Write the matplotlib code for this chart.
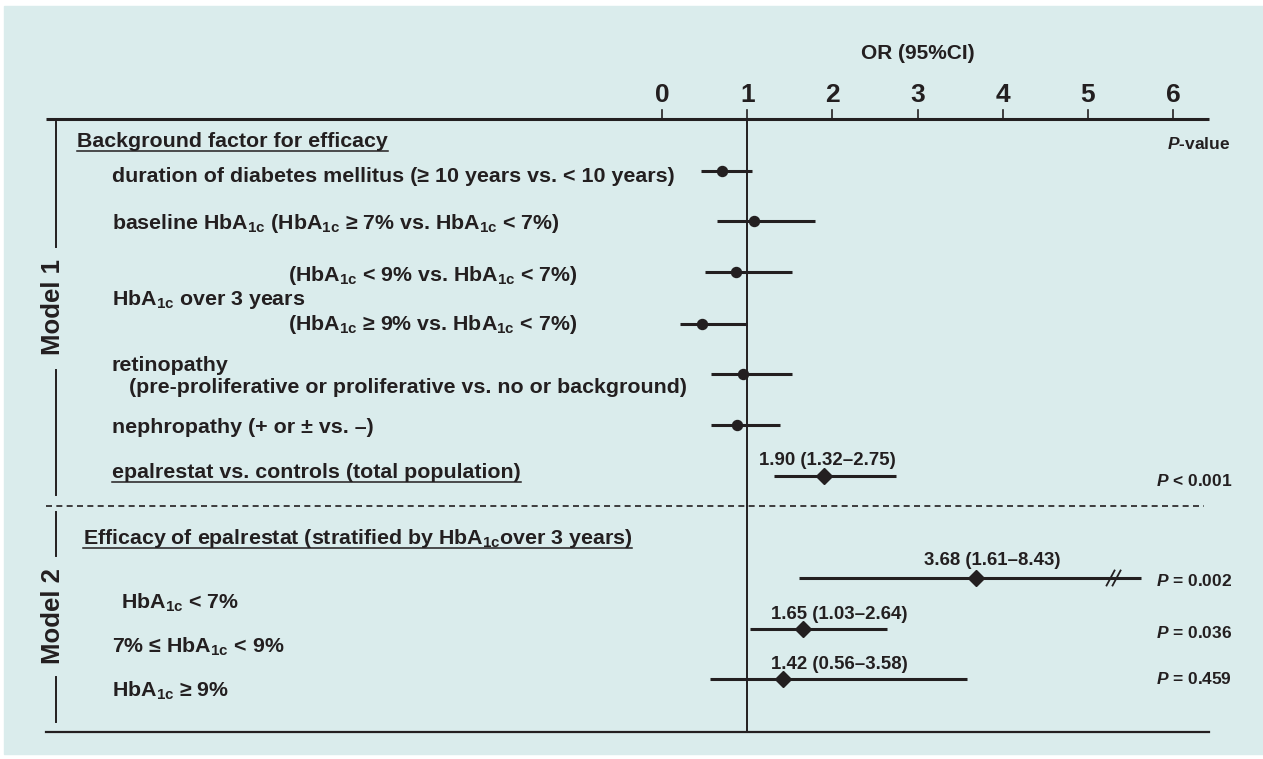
import matplotlib
matplotlib.use("Agg")
import matplotlib.pyplot as plt
from matplotlib.patches import Rectangle

plt.rcParams["font.family"] = ["Liberation Sans", "DejaVu Sans"]
plt.rcParams["font.weight"] = "bold"
plt.rcParams["mathtext.fontset"] = "custom"
plt.rcParams["mathtext.rm"] = "Liberation Sans:bold"
plt.rcParams["mathtext.it"] = "Liberation Sans:italic:bold"
plt.rcParams["mathtext.bf"] = "Liberation Sans:bold"

INK = "#231f20"
BG = "#daecec"
HB = r"HbA$_\mathrm{1c}$"

# dados
ticks = [0, 1, 2, 3, 4, 5, 6]

m1_or = [0.71, 1.08, 0.87, 0.47, 0.945, 0.88]
m1_lo = [0.46, 0.64, 0.50, 0.21, 0.58, 0.57]
m1_hi = [1.06, 1.79, 1.53, 1.00, 1.52, 1.39]

total_or = 1.90
total_lo = 1.32
total_hi = 2.75

m2_or = [3.68, 1.65, 1.42]
m2_lo = [1.61, 1.03, 0.56]
m2_hi = [8.43, 2.64, 3.58]

p_values = [r"$\mathit{P}$ < 0.001", r"$\mathit{P}$ = 0.002",
            r"$\mathit{P}$ = 0.036", r"$\mathit{P}$ = 0.459"]

labels = [
    "Background factor for efficacy",
    "duration of diabetes mellitus (≥ 10 years vs. < 10 years)",
    f"baseline {HB} ({HB} ≥ 7% vs. {HB} < 7%)",
    f"({HB} < 9% vs. {HB} < 7%)",
    f"{HB} over 3 years",
    f"({HB} ≥ 9% vs. {HB} < 7%)",
    "retinopathy",
    "(pre-proliferative or proliferative vs. no or background)",
    "nephropathy (+ or ± vs. –)",
    "epalrestat vs. controls (total population)",
    f"Efficacy of epalrestat (stratified by {HB}over 3 years)",
    f"{HB} < 7%",
    f"7% ≤ {HB} < 9%",
    f"{HB} ≥ 9%",
]

# layout (pixels)
W, H = 1263, 759
X0, UNIT = 662, 85.2          # pixel do 0 e pixels por unidade de OR
LBL = 15.4
m1_rows = [171, 221, 272, 324, 374, 425]
total_row = 476
m2_rows = [578, 629, 679]
lab_x = [77, 112, 112, 288, 112, 288, 112, 129, 112, 112, 83, 121, 112, 112]
lab_base = [147, 182, 229, 281, 305, 330, 371, 393, 433, 478, 544, 609, 653, 697]
underlined = [0, 9, 10]
p_base = [486, 586, 638, 684]
ci_lab_x = [759, 924, 771, 771]
ci_lab_base = [465, 565, 619, 669]
CLIP_AT = 5.62                # onde a linha do IC é cortada
BREAK_AT = 5.30


def px(xp):
    return (xp - X0) / UNIT


fig = plt.figure(figsize=(W / 100, H / 100), dpi=100)
ax = fig.add_axes([0, 0, 1, 1])
ax.set_xlim(px(0), px(W))
ax.set_ylim(H, 0)
ax.axis("off")

ax.add_patch(Rectangle((px(4), 6), px(1263) - px(4), 748, color=BG, zorder=0))

# eixo superior
ax.plot([px(46), px(1209)], [118.5, 118.5], color=INK, lw=2.2, solid_capstyle="butt")
for t in ticks:
    ax.plot([t, t], [110, 118.5], color=INK, lw=1.2)
    ax.text(t, 102, str(t), ha="center", va="baseline", fontsize=19, color=INK)
ax.text(px(918), 59, "OR (95%CI)", ha="center", va="baseline", fontsize=15, color=INK)
ax.text(px(1167), 149, r"$\mathit{P}$-value", ha="left", va="baseline", fontsize=12.5, color=INK)

# linha de referência em OR = 1, base e separador
ax.plot([1, 1], [118.5, 731.5], color=INK, lw=1.4)
ax.plot([px(46), px(1209)], [731.5, 731.5], color=INK, lw=1.6)
ax.plot([px(46), px(1204)], [506, 506], color=INK, lw=1.2, linestyle=(0, (3.6, 2.6)))

# rótulos Model
ax.text(px(53), 307, "Model 1", rotation=90, ha="center", va="center", fontsize=18.5, color=INK)
ax.text(px(53), 616, "Model 2", rotation=90, ha="center", va="center", fontsize=18.5, color=INK)
for a, b in [(122, 247), (370, 495), (512, 556), (677, 722)]:
    ax.plot([px(56), px(56)], [a, b], color=INK, lw=1.4)

# rótulos da esquerda
texts = []
for s, x, y in zip(labels, lab_x, lab_base):
    texts.append(ax.text(px(x), y, s, ha="left", va="baseline", fontsize=LBL, color=INK))

# modelo 1
for y, o, lo, hi in zip(m1_rows, m1_or, m1_lo, m1_hi):
    ax.plot([lo, hi], [y, y], color=INK, lw=2.2, solid_capstyle="butt")
    ax.plot(o, y, "o", ms=7.2, color=INK)

# total e modelo 2 (diamantes)
d_or = [total_or] + m2_or
d_lo = [total_lo] + m2_lo
d_hi = [total_hi] + m2_hi
d_rows = [total_row] + m2_rows
for i, (y, o, lo, hi) in enumerate(zip(d_rows, d_or, d_lo, d_hi)):
    ax.plot([lo, min(hi, CLIP_AT)], [y, y], color=INK, lw=2.2, solid_capstyle="butt")
    ax.plot(o, y, "D", ms=8, color=INK)
    ax.text(px(ci_lab_x[i]), ci_lab_base[i], f"{o:.2f} ({lo:.2f}–{hi:.2f})",
            ha="left", va="baseline", fontsize=13.4, color=INK)
    ax.text(px(1156), p_base[i], p_values[i], ha="left", va="baseline",
            fontsize=12.5, color=INK)
    if hi > CLIP_AT:
        # marca de quebra //
        for dx in (-3, 3):
            xb = BREAK_AT + dx / UNIT
            ax.plot([xb - 4 / UNIT, xb + 4 / UNIT], [y + 7.5, y - 7.5],
                    color=INK, lw=1.3)

# sublinhados
fig.canvas.draw()
r = fig.canvas.get_renderer()
inv = ax.transData.inverted()
for i in underlined:
    bb = texts[i].get_window_extent(r)
    (xa, _), (xb, _) = inv.transform([(bb.x0, 0), (bb.x1, 0)])
    yl = lab_base[i] + 4
    ax.plot([xa, xb], [yl, yl], color=INK, lw=1.1)

fig.savefig("out.png", dpi=100, facecolor="white")
